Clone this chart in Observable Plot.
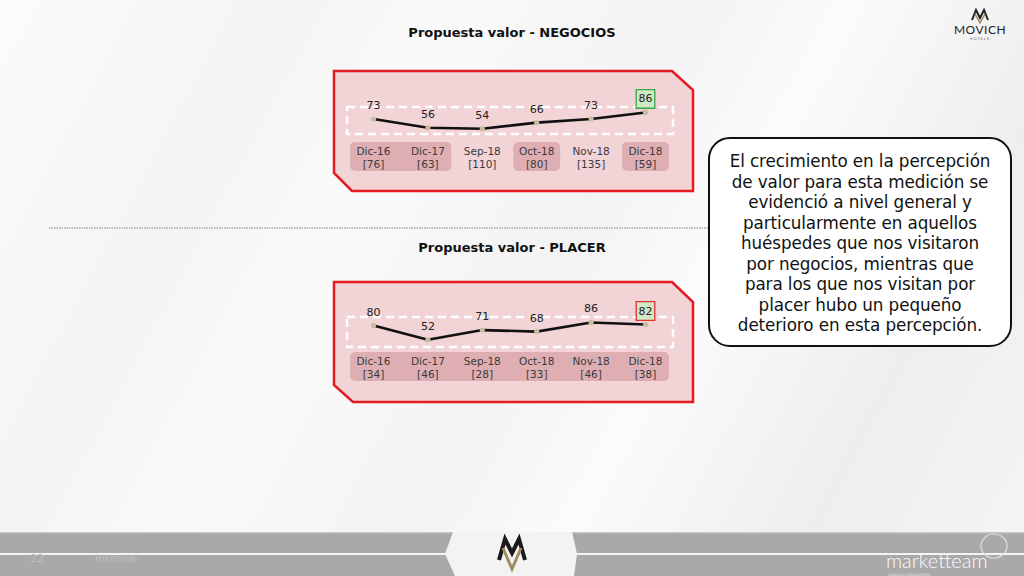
<!DOCTYPE html>
<html>
<head>
<meta charset="utf-8">
<script src="https://cdn.jsdelivr.net/npm/d3@7"></script>
<script src="https://cdn.jsdelivr.net/npm/@observablehq/plot@0.6"></script>
<style>
  html, body { margin: 0; padding: 0; }
  body {
    width: 1024px; height: 576px; position: relative; overflow: hidden;
    font-family: "DejaVu Sans", sans-serif;
    background: linear-gradient(118deg, #fbfbfb 0%, #f4f4f5 22%, #fafafa 34%, #f3f3f4 52%, #fbfbfb 64%, #eeeeef 82%, #f5f5f5 100%);
  }
  #deco { position: absolute; left: 0; top: 0; }
  .title { position: absolute; left: 312px; width: 400px; text-align: center; font-weight: bold; font-size: 13px; color: #111; }
  .chart { position: absolute; left: 333px; }
  #note {
    position: absolute; left: 708px; top: 137px; width: 300px; height: 206px;
    border: 2px solid #111; border-radius: 22px; background: #fff;
    text-align: center; font-size: 16.8px; line-height: 20.5px; color: #111;
    box-sizing: content-box;
  }
  #note div { padding-top: 12px; letter-spacing: -0.1px; }
</style>
</head>
<body>
<svg id="deco" width="1024" height="576">
  <!-- panels -->
  <polygon points="334,71 672,71 693,90 693,191 352,191 334,173" fill="#f2d3d6" stroke="#e31b23" stroke-width="2.5"/>
  <rect x="347" y="107" width="326" height="27" fill="none" stroke="#fff" stroke-width="2.5" stroke-dasharray="8 5"/>
  <polygon points="334,282 672,282 693,302 693,402 353,402 334,385" fill="#f2d3d6" stroke="#e31b23" stroke-width="2.5"/>
  <rect x="347" y="317" width="326" height="30" fill="none" stroke="#fff" stroke-width="2.5" stroke-dasharray="8 5"/>
  <!-- separator -->
  <line x1="49" y1="228" x2="708" y2="228" stroke="#a8a8a8" stroke-width="1.5" stroke-dasharray="1.5 1"/>
  <!-- footer -->
  <rect x="0" y="532" width="1024" height="44" fill="#a9a9a9"/>
  <rect x="0" y="532" width="1024" height="1.5" fill="#c4c4c4"/>
  <rect x="0" y="553" width="1024" height="2" fill="#f4f4f4"/>
  <polygon points="453,532 572,532 577,554 574,576 455,576 445,554" fill="#f3f3f3"/>
  <polyline points="499,560 505,539 512,553 519,539 525,560" fill="none" stroke="#1a1a1a" stroke-width="4" stroke-linejoin="miter"/>
  <polyline points="503,548 512,569 521,548" fill="none" stroke="#a08c5e" stroke-width="3"/>
  <text x="30" y="562" font-size="11" fill="#bcbcbc">22</text>
  <text x="95" y="562" font-size="11" fill="#bcbcbc">Internal</text>
  <text x="886" y="568" font-size="20" fill="#fbfbfb" font-family="Lato, sans-serif" font-weight="300">marketteam</text>
  <text x="888" y="576" font-size="3" fill="#e8e8e8">CIENCIA DE CONOCIMIENTO</text>
  <ellipse cx="994" cy="546" rx="13" ry="12" fill="none" stroke="#dedede" stroke-width="1.2"/>
  <!-- top-right logo -->
  <polyline points="972,20 976,10 980,18 984,10 988,20" fill="none" stroke="#222" stroke-width="2"/>
  <polyline points="975,14 980,23 985,14" fill="none" stroke="#a08c5e" stroke-width="1.5"/>
  <text x="980" y="34" font-size="12" text-anchor="middle" fill="#222" font-family="Lato, sans-serif" letter-spacing="0.5">MOVICH</text>
  <text x="980" y="40" font-size="3.5" text-anchor="middle" fill="#555" letter-spacing="1">HOTELS</text>
</svg>

<div class="title" style="top:25px;">Propuesta valor - NEGOCIOS</div>
<div class="title" style="top:240px;">Propuesta valor - PLACER</div>
<div class="chart" id="top" style="top:60px;"></div>
<div class="chart" id="bottom" style="top:270px;"></div>

<div id="note"><div>El crecimiento en la percepción<br>de valor para esta medición se<br>evidenció a nivel general y<br>particularmente en aquellos<br>huéspedes que nos visitaron<br>por negocios, mientras que<br>para los que nos visitan por<br>placer hubo un pequeño<br>deterioro en esta percepción.</div></div>

<script>
const categories = ["Dic-16", "Dic-17", "Sep-18", "Oct-18", "Nov-18", "Dic-18"];
const negociosValues = [73, 56, 54, 66, 73, 86];
const negociosBase = [76, 63, 110, 80, 135, 59];
const negociosHighlight = [true, true, false, true, false, true];
const placerValues = [80, 52, 71, 68, 86, 82];
const placerBase = [34, 46, 28, 33, 46, 38];
const placerHighlight = [true, true, true, true, true, true];

function runsOf(flags) {
  const runs = [];
  flags.forEach((f, i) => {
    if (!f) return;
    const last = runs[runs.length - 1];
    if (last && last.end === i - 1) last.end = i;
    else runs.push({start: i, end: i});
  });
  return runs;
}

function drawPanel(target, values, base, highlight, lastStroke) {
  const data = categories.map((c, i) => ({i, c, n: base[i], v: values[i]}));
  const lastPoint = data.slice(-1);
  const chart = Plot.plot({
    width: 361, height: 140,
    marginTop: 82, marginBottom: 29, marginLeft: 0, marginRight: 0,
    x: {domain: [0, categories.length - 1], range: [40, 312], axis: null},
    y: {domain: [0, 100], range: [95.8, 44.8], axis: null},
    style: {background: "transparent", overflow: "visible", fontFamily: "DejaVu Sans, sans-serif"},
    marks: [
      Plot.rect(runsOf(highlight), {x1: d => d.start - 0.42, x2: d => d.end + 0.44, fill: "#dfaeb3", rx: 5}),
      Plot.text(data, {x: "i", text: d => `${d.c}\n[${d.n}]`, frameAnchor: "middle", lineHeight: 1.3, fontSize: 10.5, fill: "#3a3a3a"}),
      Plot.line(data, {x: "i", y: "v", stroke: "#111", strokeWidth: 2.6}),
      Plot.dot(data, {x: "i", y: "v", r: 2.6, fill: "#c9bb9c"}),
      Plot.dot(lastPoint, {x: "i", y: "v", dy: -13.5, symbol: "square", r: 10.5, fill: "#cfe8c6", stroke: lastStroke, strokeWidth: 1.3}),
      Plot.text(data, {x: "i", y: "v", dy: -13.5, text: d => String(d.v), fontSize: 11, fill: "#222"})
    ]
  });
  document.getElementById(target).appendChild(chart);
}

drawPanel("top", negociosValues, negociosBase, negociosHighlight, "#3aa84a");
drawPanel("bottom", placerValues, placerBase, placerHighlight, "#e0302f");
</script>
</body>
</html>
